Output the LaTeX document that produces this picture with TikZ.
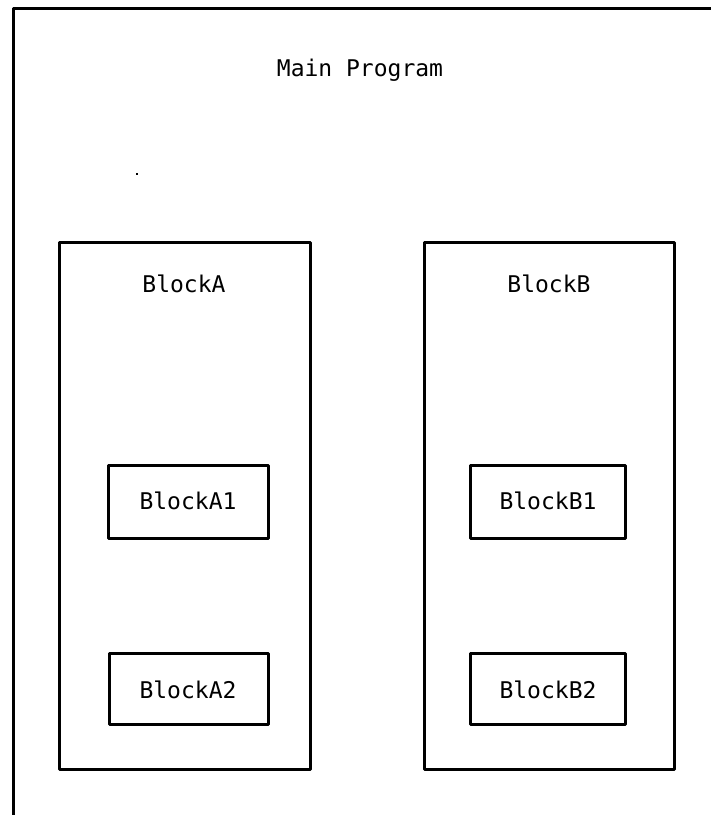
\documentclass[tikz,border=0pt]{standalone}
\usepackage{fontspec}
\setmonofont{DejaVu Sans Mono}
\begin{document}
\begin{tikzpicture}[x=1pt,y=-1pt,
  frame/.style={draw=black,line width=3pt,line join=round},
  lbl/.style={font=\ttfamily\fontsize{23}{26}\selectfont,text=black,inner sep=0pt}]
\useasboundingbox[fill=white] (0,0) rectangle (711,815);
% outer frame (cropped at right and bottom)
\coordinate (otl) at (13,8);
\coordinate (otr) at (713,8);
\coordinate (obl) at (13,817);
\draw[frame] (otr) -- (otl) -- (obl);
\node[lbl] (main) at (360,70) {Main Program};
% speck
\fill (136,173) rectangle (138,175);
% Block A
\draw[frame] (59,242) rectangle (310,769);
\node[lbl] (bA) at (184,284) {BlockA};
\draw[frame] (108,465) rectangle (268,538);
\node[lbl] (bA1) at (188,501) {BlockA1};
\draw[frame] (109,653) rectangle (268,724);
\node[lbl] (bA2) at (188,690) {BlockA2};
% Block B
\draw[frame] (424,242) rectangle (674,769);
\node[lbl] (bB) at (549,284) {BlockB};
\draw[frame] (470,465) rectangle (625,538);
\node[lbl] (bB1) at (548,501) {BlockB1};
\draw[frame] (470,653) rectangle (625,724);
\node[lbl] (bB2) at (548,690) {BlockB2};
\end{tikzpicture}
\end{document}
